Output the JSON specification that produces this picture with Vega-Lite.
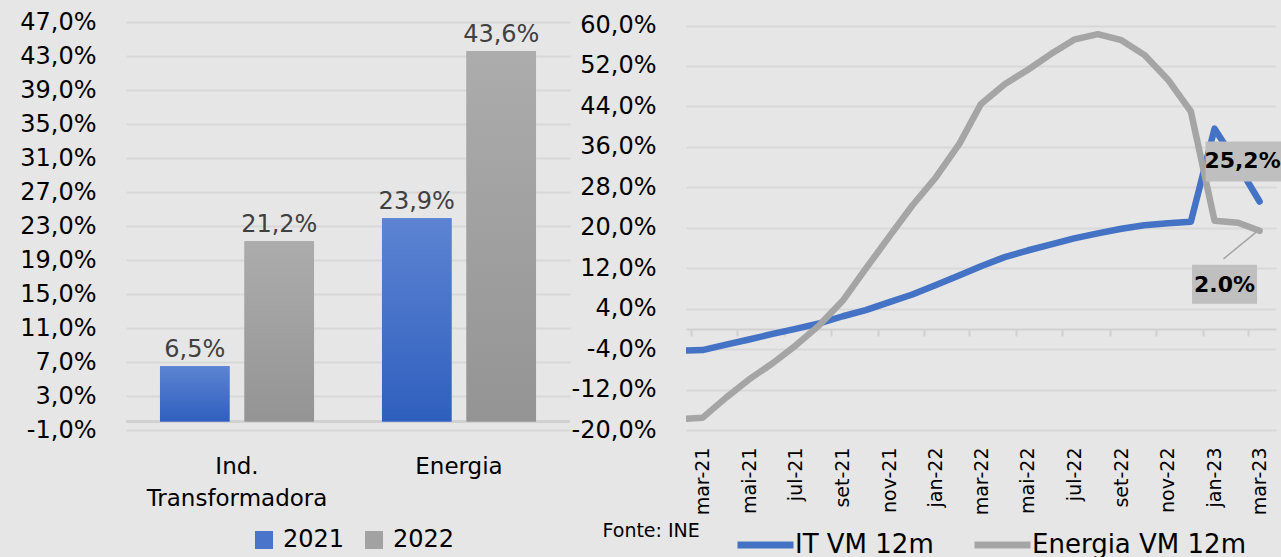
{
  "$schema": "https://vega.github.io/schema/vega-lite/v6.json",
  "background": "#e6e6e6",
  "padding": {"left": 19, "top": 10, "right": 0, "bottom": 0},
  "spacing": 0,
  "resolve": {"scale": {"color": "independent"}, "legend": {"color": "independent"}},
  "config": {
    "view": {"stroke": null},
    "font": "DejaVu Sans",
    "locale": {
      "number": {"decimal": ",", "thousands": ".", "grouping": [3], "currency": ["", " €"], "minus": "-"},
      "time": {
        "dateTime": "%A, %e de %B de %Y. %X", "date": "%d/%m/%Y", "time": "%H:%M:%S", "periods": ["AM", "PM"],
        "days": ["Domingo", "Segunda", "Terça", "Quarta", "Quinta", "Sexta", "Sábado"],
        "shortDays": ["Dom", "Seg", "Ter", "Qua", "Qui", "Sex", "Sáb"],
        "months": ["Janeiro", "Fevereiro", "Março", "Abril", "Maio", "Junho", "Julho", "Agosto", "Setembro", "Outubro", "Novembro", "Dezembro"],
        "shortMonths": ["jan", "fev", "mar", "abr", "mai", "jun", "jul", "ago", "set", "out", "nov", "dez"]
      }
    },
    "axis": {"labelFont": "DejaVu Sans", "labelColor": "#000000", "gridColor": "#d8d8d8", "gridWidth": 2, "labelLimit": 400},
    "legend": {"labelFont": "DejaVu Sans", "labelColor": "#000000", "labelLimit": 400}
  },
  "datasets": {
    "bars": [
      {"category": "Ind. Transformadora", "year": "2021", "value": 0.065},
      {"category": "Ind. Transformadora", "year": "2022", "value": 0.212},
      {"category": "Energia", "year": "2021", "value": 0.239},
      {"category": "Energia", "year": "2022", "value": 0.436}
    ],
    "lines": [
      {"date": "2021-02-01", "series": "IT VM 12m", "value": -0.043},
      {"date": "2021-03-01", "series": "IT VM 12m", "value": -0.042},
      {"date": "2021-04-01", "series": "IT VM 12m", "value": -0.031},
      {"date": "2021-05-01", "series": "IT VM 12m", "value": -0.021},
      {"date": "2021-06-01", "series": "IT VM 12m", "value": -0.010},
      {"date": "2021-07-01", "series": "IT VM 12m", "value": 0.000},
      {"date": "2021-08-01", "series": "IT VM 12m", "value": 0.011},
      {"date": "2021-09-01", "series": "IT VM 12m", "value": 0.025},
      {"date": "2021-10-01", "series": "IT VM 12m", "value": 0.037},
      {"date": "2021-11-01", "series": "IT VM 12m", "value": 0.053},
      {"date": "2021-12-01", "series": "IT VM 12m", "value": 0.068},
      {"date": "2022-01-01", "series": "IT VM 12m", "value": 0.087},
      {"date": "2022-02-01", "series": "IT VM 12m", "value": 0.106},
      {"date": "2022-03-01", "series": "IT VM 12m", "value": 0.124},
      {"date": "2022-04-01", "series": "IT VM 12m", "value": 0.142},
      {"date": "2022-05-01", "series": "IT VM 12m", "value": 0.155},
      {"date": "2022-06-01", "series": "IT VM 12m", "value": 0.167},
      {"date": "2022-07-01", "series": "IT VM 12m", "value": 0.179},
      {"date": "2022-08-01", "series": "IT VM 12m", "value": 0.189},
      {"date": "2022-09-01", "series": "IT VM 12m", "value": 0.198},
      {"date": "2022-10-01", "series": "IT VM 12m", "value": 0.205},
      {"date": "2022-11-01", "series": "IT VM 12m", "value": 0.209},
      {"date": "2022-12-01", "series": "IT VM 12m", "value": 0.212},
      {"date": "2023-01-01", "series": "IT VM 12m", "value": 0.396},
      {"date": "2023-02-01", "series": "IT VM 12m", "value": 0.323},
      {"date": "2023-03-01", "series": "IT VM 12m", "value": 0.252},
      {"date": "2021-02-01", "series": "Energia VM 12m", "value": -0.178},
      {"date": "2021-03-01", "series": "Energia VM 12m", "value": -0.176},
      {"date": "2021-04-01", "series": "Energia VM 12m", "value": -0.136},
      {"date": "2021-05-01", "series": "Energia VM 12m", "value": -0.100},
      {"date": "2021-06-01", "series": "Energia VM 12m", "value": -0.068},
      {"date": "2021-07-01", "series": "Energia VM 12m", "value": -0.033},
      {"date": "2021-08-01", "series": "Energia VM 12m", "value": 0.007},
      {"date": "2021-09-01", "series": "Energia VM 12m", "value": 0.056},
      {"date": "2021-10-01", "series": "Energia VM 12m", "value": 0.119},
      {"date": "2021-11-01", "series": "Energia VM 12m", "value": 0.183},
      {"date": "2021-12-01", "series": "Energia VM 12m", "value": 0.244},
      {"date": "2022-01-01", "series": "Energia VM 12m", "value": 0.300},
      {"date": "2022-02-01", "series": "Energia VM 12m", "value": 0.367},
      {"date": "2022-03-01", "series": "Energia VM 12m", "value": 0.445},
      {"date": "2022-04-01", "series": "Energia VM 12m", "value": 0.484},
      {"date": "2022-05-01", "series": "Energia VM 12m", "value": 0.512},
      {"date": "2022-06-01", "series": "Energia VM 12m", "value": 0.544},
      {"date": "2022-07-01", "series": "Energia VM 12m", "value": 0.572},
      {"date": "2022-08-01", "series": "Energia VM 12m", "value": 0.583},
      {"date": "2022-09-01", "series": "Energia VM 12m", "value": 0.571},
      {"date": "2022-10-01", "series": "Energia VM 12m", "value": 0.542},
      {"date": "2022-11-01", "series": "Energia VM 12m", "value": 0.493},
      {"date": "2022-12-01", "series": "Energia VM 12m", "value": 0.430},
      {"date": "2023-01-01", "series": "Energia VM 12m", "value": 0.214},
      {"date": "2023-02-01", "series": "Energia VM 12m", "value": 0.210},
      {"date": "2023-03-01", "series": "Energia VM 12m", "value": 0.194}
    ],
    "ends": [
      {"date": "2023-03-01", "series": "IT VM 12m", "value": 0.252, "label": "25,2%"},
      {"date": "2023-03-01", "series": "Energia VM 12m", "value": 0.194, "label": "2.0%"}
    ]
  },
  "hconcat": [
    {
      "width": 444,
      "height": 408,
      "data": {"name": "bars"},
      "encoding": {
        "y": {
          "field": "value", "type": "quantitative",
          "scale": {"domain": [-0.01, 0.47], "nice": false, "zero": false},
          "axis": {
            "title": null, "values": [-0.01, 0.03, 0.07, 0.11, 0.15, 0.19, 0.23, 0.27, 0.31, 0.35, 0.39, 0.43, 0.47],
            "format": ".1%", "labelFontSize": 24, "labelPadding": 30, "ticks": false, "domain": false, "grid": true
          }
        }
      },
      "layer": [
        {"mark": {"type": "rule", "color": "#d0d0d0", "strokeWidth": 2}, "encoding": {"y": {"datum": 0}}},
        {
          "mark": {"type": "bar"},
          "encoding": {
            "x": {
              "field": "category", "type": "nominal", "sort": null,
              "scale": {"paddingInner": 0, "paddingOuter": 0},
              "axis": {
                "title": null, "labelAngle": 0, "labelFontSize": 23, "labelPadding": 25, "labelLineHeight": 32,
                "ticks": false, "domain": false, "labelLimit": 400,
                "labelExpr": "datum.label == 'Ind. Transformadora' ? ['Ind.', 'Transformadora'] : datum.label"
              }
            },
            "xOffset": {"field": "year", "type": "nominal", "scale": {"paddingInner": 0.1775, "paddingOuter": 0.402}},
            "color": {
              "field": "year", "type": "nominal",
              "scale": {"domain": ["2021", "2022"], "range": ["#4a74c9", "#a2a2a2"]},
              "legend": {
                "title": null, "orient": "none", "legendX": 126, "legendY": 506, "direction": "horizontal",
                "symbolType": "square", "symbolSize": 324, "symbolStrokeWidth": 0, "labelFontSize": 24,
                "labelOffset": 7, "columnPadding": 17
              }
            }
          }
        },
        {
          "transform": [{"filter": "datum.year == '2021'"}],
          "mark": {"type": "bar", "color": {"gradient": "linear", "x1": 0, "y1": 0, "x2": 0, "y2": 1, "stops": [{"offset": 0, "color": "#5d84d3"}, {"offset": 1, "color": "#2f5fbe"}]}},
          "encoding": {
            "x": {"field": "category", "type": "nominal", "sort": null},
            "xOffset": {"field": "year", "type": "nominal"}
          }
        },
        {
          "transform": [{"filter": "datum.year == '2022'"}],
          "mark": {"type": "bar", "color": {"gradient": "linear", "x1": 0, "y1": 0, "x2": 0, "y2": 1, "stops": [{"offset": 0, "color": "#acacac"}, {"offset": 1, "color": "#949494"}]}},
          "encoding": {
            "x": {"field": "category", "type": "nominal", "sort": null},
            "xOffset": {"field": "year", "type": "nominal"}
          }
        },
        {
          "mark": {"type": "text", "baseline": "bottom", "dy": -4, "fontSize": 24, "color": "#404040"},
          "encoding": {
            "x": {"field": "category", "type": "nominal", "sort": null},
            "xOffset": {"field": "year", "type": "nominal"},
            "text": {"field": "value", "type": "quantitative", "format": ".1%"}
          }
        }
      ]
    },
    {
      "width": 590,
      "height": 408,
      "resolve": {"axis": {"x": "independent"}},
      "layer": [
        {
          "data": {"name": "lines"},
          "mark": {"type": "point", "opacity": 0},
          "encoding": {
            "x": {
              "field": "date", "type": "temporal",
              "scale": {"type": "utc", "domain": [{"year": 2021, "month": 2, "date": 14, "utc": true}, {"year": 2023, "month": 3, "date": 16, "utc": true}]},
              "axis": {
                "orient": "bottom", "offset": -101, "labels": false, "ticks": true, "tickSize": 7, "tickColor": "#d0d0d0",
                "tickWidth": 2, "tickOffset": -11.8, "domain": true, "domainColor": "#d0d0d0", "domainWidth": 2,
                "grid": false, "title": null, "tickCount": {"interval": "month", "step": 2}
              }
            },
            "y": {"field": "value", "type": "quantitative"}
          }
        },
        {
          "data": {"name": "lines"},
          "mark": {"type": "line", "strokeWidth": 6.5, "strokeJoin": "round", "strokeCap": "round", "clip": true},
          "encoding": {
            "x": {
              "field": "date", "type": "temporal",
              "axis": {
                "orient": "bottom", "format": "%b-%y", "tickCount": {"interval": "month", "step": 2},
                "labelAngle": -90, "labelAlign": "right", "labelBaseline": "middle", "labelFontSize": 19,
                "labelPadding": 17, "ticks": false, "domain": false, "grid": false, "labelFlush": false, "labelOverlap": false,
                "title": "Fonte: INE", "titleFont": "DejaVu Sans", "titleFontSize": 19, "titleFontWeight": "normal",
                "titleColor": "#000000", "titleX": -84, "titleY": 91, "titleAlign": "left", "titleBaseline": "top", "titleAngle": 0
              }
            },
            "y": {
              "field": "value", "type": "quantitative",
              "scale": {"domain": [-0.2, 0.607], "nice": false, "zero": false},
              "axis": {
                "title": null, "values": [-0.2, -0.12, -0.04, 0.04, 0.12, 0.2, 0.28, 0.36, 0.44, 0.52, 0.6],
                "format": ".1%", "labelFontSize": 24, "labelPadding": 30, "ticks": false, "domain": false, "grid": true
              }
            },
            "color": {
              "field": "series", "type": "nominal", "sort": ["IT VM 12m", "Energia VM 12m"],
              "scale": {"domain": ["IT VM 12m", "Energia VM 12m"], "range": ["#4472c4", "#a5a5a5"]},
              "legend": {
                "title": null, "orient": "none", "legendX": 48, "legendY": 509, "direction": "horizontal",
                "symbolType": "stroke", "symbolStrokeWidth": 7, "symbolSize": 3136, "labelFontSize": 26,
                "labelOffset": -2, "columnPadding": 37, "clipHeight": 28
              }
            }
          }
        },
        {
          "data": {"name": "ends"},
          "transform": [{"filter": "datum.series == 'IT VM 12m'"}],
          "mark": {"type": "bar", "color": "#bfbfbf", "width": 76, "xOffset": -16, "yOffset": -60, "y2Offset": -20},
          "encoding": {
            "x": {"field": "date", "type": "temporal", "axis": null},
            "y": {"field": "value", "type": "quantitative"},
            "y2": {"field": "value"}
          }
        },
        {
          "data": {"name": "ends"},
          "transform": [{"filter": "datum.series == 'IT VM 12m'"}],
          "mark": {"type": "text", "fontSize": 22, "fontWeight": "bold", "color": "#000000", "xOffset": -17, "yOffset": -40, "align": "center", "baseline": "middle"},
          "encoding": {
            "x": {"field": "date", "type": "temporal", "axis": null},
            "y": {"field": "value", "type": "quantitative"},
            "text": {"field": "label"}
          }
        },
        {
          "data": {"name": "ends"},
          "transform": [{"filter": "datum.series == 'Energia VM 12m'"}],
          "mark": {"type": "rule", "color": "#a5a5a5", "strokeWidth": 1.5, "xOffset": -36, "yOffset": 28, "x2Offset": -3, "y2Offset": 1},
          "encoding": {
            "x": {"field": "date", "type": "temporal", "axis": null},
            "x2": {"field": "date"},
            "y": {"field": "value", "type": "quantitative"},
            "y2": {"field": "value"}
          }
        },
        {
          "data": {"name": "ends"},
          "transform": [{"filter": "datum.series == 'Energia VM 12m'"}],
          "mark": {"type": "bar", "color": "#bfbfbf", "width": 65, "xOffset": -35, "yOffset": 34, "y2Offset": 73},
          "encoding": {
            "x": {"field": "date", "type": "temporal", "axis": null},
            "y": {"field": "value", "type": "quantitative"},
            "y2": {"field": "value"}
          }
        },
        {
          "data": {"name": "ends"},
          "transform": [{"filter": "datum.series == 'Energia VM 12m'"}],
          "mark": {"type": "text", "fontSize": 22, "fontWeight": "bold", "color": "#000000", "xOffset": -35, "yOffset": 54, "align": "center", "baseline": "middle"},
          "encoding": {
            "x": {"field": "date", "type": "temporal", "axis": null},
            "y": {"field": "value", "type": "quantitative"},
            "text": {"field": "label"}
          }
        }
      ]
    }
  ]
}
